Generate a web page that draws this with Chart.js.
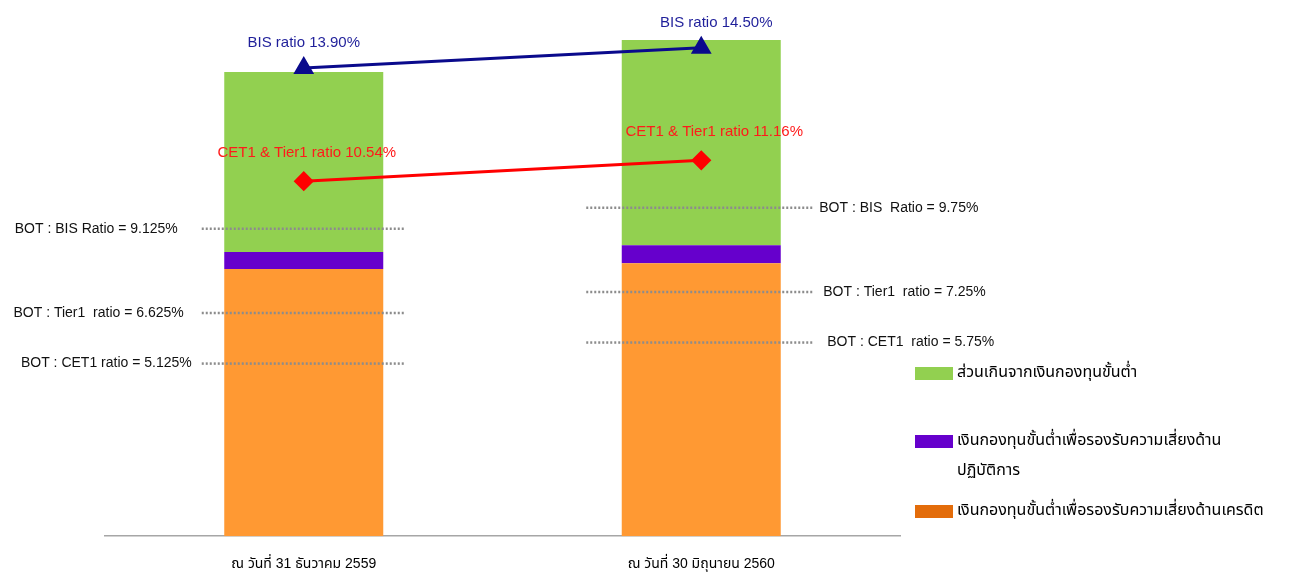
<!DOCTYPE html>
<html>
<head>
<meta charset="utf-8">
<script src="https://cdn.jsdelivr.net/npm/chart.js@4.4.0/dist/chart.umd.min.js"></script>
<style>
    body { margin: 0; background: #fff; }
    #wrap { width: 1314px; height: 575px; }
</style>
</head>
<body>
<div id="wrap"><canvas id="canvas" width="1314" height="575"></canvas></div>
<script>
// categories
const categories = ['ณ วันที่ 31 ธันวาคม 2559', 'ณ วันที่ 30 มิถุนายน 2560'];

// capital (million baht)
const creditRisk = [13220, 13510];
const operRisk = [840, 890];
const excessCapital = [8910, 10150];

// ratios (%)
const bisRatio = [13.90, 14.50];
const cet1Ratio = [10.54, 11.16];

// BOT minimum requirements (%)
const botBis = [9.125, 9.75];
const botTier1 = [6.625, 7.25];
const botCet1 = [5.125, 5.75];
const botBisLabels = ['BOT : BIS Ratio = 9.125%', 'BOT : BIS  Ratio = 9.75%'];
const botTier1Labels = ['BOT : Tier1  ratio = 6.625%', 'BOT : Tier1  ratio = 7.25%'];
const botCet1Labels = ['BOT : CET1 ratio = 5.125%', 'BOT : CET1  ratio = 5.75%'];

const legendItems = [
    { color: '#92D050', lines: ['ส่วนเกินจากเงินกองทุนขั้นต่ำ'] },
    { color: '#6600CC', lines: ['เงินกองทุนขั้นต่ำเพื่อรองรับความเสี่ยงด้าน', 'ปฏิบัติการ'] },
    { color: '#E36C0A', lines: ['เงินกองทุนขั้นต่ำเพื่อรองรับความเสี่ยงด้านเครดิต'] }
];

const thaiFont = "'Liberation Sans', 'Noto Sans Thai', 'Noto Sans', sans-serif";

// dotted BOT lines + ratio labels + legend
const overlayPlugin = {
    id: 'overlay',
    afterDatasetsDraw(chart) {
        const ctx = chart.ctx;
        const x = chart.scales.x;
        const y2 = chart.scales.y2;
        const area = chart.chartArea;

        ctx.save();
        // BOT reference lines
        const refs = [
            { vals: botBis, labels: botBisLabels, gap: 24 },
            { vals: botTier1, labels: botTier1Labels, gap: 18 },
            { vals: botCet1, labels: botCet1Labels, gap: 10 }
        ];
        ctx.font = '14px ' + thaiFont;
        ctx.textBaseline = 'middle';
        refs.forEach(function (r, k) {
            for (let i = 0; i < categories.length; i++) {
                const cx = x.getPixelForValue(i);
                const py = y2.getPixelForValue(r.vals[i]);
                const left = i === 0 ? cx - 102 : cx - 115;
                const right = i === 0 ? cx + 100 : cx + 112;
                ctx.strokeStyle = '#8c8c8c';
                ctx.lineWidth = 2.5;
                ctx.setLineDash([2, 2]);
                ctx.beginPath();
                ctx.moveTo(left, py);
                ctx.lineTo(right, py);
                ctx.stroke();
                ctx.setLineDash([]);
                ctx.fillStyle = '#111';
                if (i === 0) {
                    ctx.textAlign = 'right';
                    ctx.fillText(r.labels[i], left - r.gap, py);
                } else {
                    ctx.textAlign = 'left';
                    ctx.fillText(r.labels[i], right + 6 + k * 4, py);
                }
            }
        });

        // ratio labels above points
        ctx.font = '15px ' + thaiFont;
        ctx.textAlign = 'center';
        ctx.textBaseline = 'middle';
        for (let i = 0; i < categories.length; i++) {
            const cx = x.getPixelForValue(i);
            ctx.fillStyle = '#1F1F9A';
            ctx.fillText('BIS ratio ' + bisRatio[i].toFixed(2) + '%', cx + (i === 0 ? 0 : 15), y2.getPixelForValue(bisRatio[i]) - 25);
            ctx.fillStyle = '#FF1A1A';
            ctx.fillText('CET1 & Tier1 ratio ' + cet1Ratio[i].toFixed(2) + '%', cx + (i === 0 ? 3 : 13), y2.getPixelForValue(cet1Ratio[i]) - 28);
        }

        // legend
        ctx.textAlign = 'left';
        ctx.font = '16px ' + thaiFont;
        const lx = area.right + 15;
        const ys = [373, 441, 511];
        legendItems.forEach(function (item, k) {
            ctx.fillStyle = item.color;
            ctx.fillRect(lx, ys[k] - 6, 38, 13);
            ctx.fillStyle = '#000';
            item.lines.forEach(function (t, j) {
                ctx.fillText(t, lx + 42, ys[k] + j * 30);
            });
        });
        ctx.restore();
    }
};

const ctx = document.getElementById('canvas').getContext('2d');
new Chart(ctx, {
    data: {
        labels: categories,
        datasets: [
            { type: 'line', label: 'BIS ratio', data: bisRatio, yAxisID: 'y2', order: 0,
              borderColor: '#0A0A8C', backgroundColor: '#0A0A8C', borderWidth: 3,
              pointStyle: 'triangle', pointRadius: 9, pointHoverRadius: 9 },
            { type: 'line', label: 'CET1 & Tier1 ratio', data: cet1Ratio, yAxisID: 'y2', order: 0,
              borderColor: '#FF0000', backgroundColor: '#FF0000', borderWidth: 3,
              pointStyle: 'rectRot', pointRadius: 8, pointHoverRadius: 8 },
            { type: 'bar', label: legendItems[2].lines[0], data: creditRisk, backgroundColor: '#FF9933', order: 1,
              barPercentage: 0.4, categoryPercentage: 1 },
            { type: 'bar', label: legendItems[1].lines.join(''), data: operRisk, backgroundColor: '#6600CC', order: 1,
              barPercentage: 0.4, categoryPercentage: 1 },
            { type: 'bar', label: legendItems[0].lines[0], data: excessCapital, backgroundColor: '#92D050', order: 1,
              barPercentage: 0.4, categoryPercentage: 1 }
        ]
    },
    options: {
        responsive: false,
        animation: false,
        layout: { padding: { left: 105, right: 414, top: 31, bottom: -10 } },
        plugins: {
            legend: { display: false },
            tooltip: { enabled: false }
        },
        scales: {
            x: {
                stacked: true,
                grid: { display: false },
                border: { color: '#a6a6a6', width: 1.5 },
                ticks: { color: '#000', padding: 12, font: { family: thaiFont, size: 14 } }
            },
            y: {
                stacked: true,
                display: false,
                min: 0,
                max: 25000
            },
            y2: {
                display: false,
                min: 0,
                max: 15
            }
        }
    },
    plugins: [overlayPlugin]
});
</script>
</body>
</html>
